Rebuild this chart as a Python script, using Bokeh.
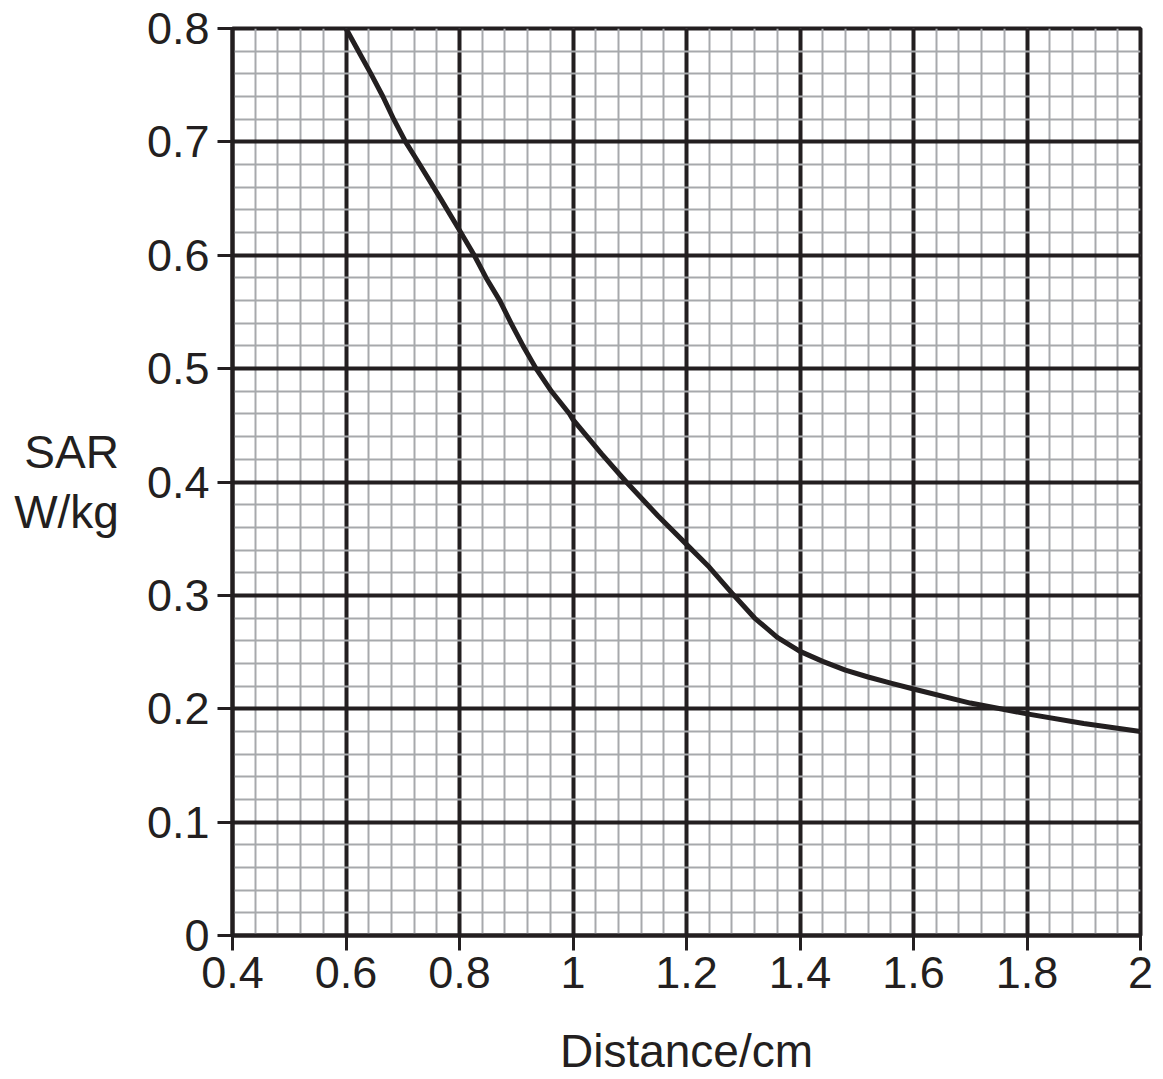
from bokeh.plotting import figure
from bokeh.models import FixedTicker, Range1d
from bokeh.embed import file_html
from bokeh.resources import INLINE

# Data
distance_cm = [0.600, 0.622, 0.644, 0.665, 0.684, 0.705, 0.725, 0.747, 0.769, 0.800,
               0.826, 0.847, 0.871, 0.891, 0.912, 0.935, 0.962, 0.994, 1.000, 1.050,
               1.094, 1.150, 1.200, 1.240, 1.280, 1.320, 1.360, 1.400, 1.440, 1.480,
               1.520, 1.560, 1.600, 1.700, 1.753, 1.800, 1.900, 2.000]
sar_wkg = [0.800, 0.780, 0.760, 0.740, 0.720, 0.700, 0.684, 0.666, 0.648, 0.622,
           0.600, 0.580, 0.560, 0.540, 0.520, 0.500, 0.480, 0.460, 0.455, 0.425,
           0.400, 0.370, 0.345, 0.325, 0.302, 0.280, 0.263, 0.2506, 0.2418, 0.234,
           0.228, 0.2226, 0.2174, 0.205, 0.200, 0.1955, 0.187, 0.180]

x_ticks = [0.4, 0.6, 0.8, 1.0, 1.2, 1.4, 1.6, 1.8, 2.0]
x_tick_labels = {0.4: "0.4", 0.6: "0.6", 0.8: "0.8", 1.0: "1", 1.2: "1.2", 1.4: "1.4",
                 1.6: "1.6", 1.8: "1.8", 2.0: "2"}
y_ticks = [0.0, 0.1, 0.2, 0.3, 0.4, 0.5, 0.6, 0.7, 0.8]
y_tick_labels = {0.0: "0", 0.1: "0.1", 0.2: "0.2", 0.3: "0.3", 0.4: "0.4", 0.5: "0.5",
                 0.6: "0.6", 0.7: "0.7", 0.8: "0.8"}
x_minor = [round(0.4 + 0.04 * i, 4) for i in range(41)]
y_minor = [round(0.02 * i, 4) for i in range(41)]

x_label = "Distance/cm"
y_label = "SAR\nW/kg"

INK = "#231f20"
MINOR = "#a7a9ac"
FONT = "Liberation Sans"

p = figure(width=1158, height=1079, output_backend="svg", toolbar_location=None,
           x_range=Range1d(0.4, 2.0), y_range=Range1d(0.0, 0.8),
           min_border_left=232, min_border_right=18, min_border_top=28, min_border_bottom=144)
p.background_fill_color = "white"
p.border_fill_color = "white"
p.outline_line_color = INK
p.outline_line_width = 4

p.xaxis.ticker = FixedTicker(ticks=x_ticks, minor_ticks=x_minor)
p.yaxis.ticker = FixedTicker(ticks=y_ticks, minor_ticks=y_minor)
p.xaxis.major_label_overrides = x_tick_labels
p.yaxis.major_label_overrides = y_tick_labels

for ax in (p.xaxis, p.yaxis):
    ax.axis_line_color = INK
    ax.axis_line_width = 4
    ax.major_tick_line_color = INK
    ax.major_tick_line_width = 3
    ax.major_tick_out = 15
    ax.major_tick_in = 0
    ax.minor_tick_line_color = None
    ax.major_label_text_font = FONT
    ax.major_label_text_font_size = "45px"
    ax.major_label_text_color = INK
    ax.axis_label_text_font = FONT
    ax.axis_label_text_font_size = "46px"
    ax.axis_label_text_font_style = "normal"
    ax.axis_label_text_color = INK
    ax.major_label_text_line_height = 0.8
p.xaxis.axis_label_text_line_height = 0.8
p.yaxis.axis_label_text_line_height = 1.15
p.xaxis.major_label_standoff = 6
p.yaxis.major_label_standoff = 8

p.xaxis.axis_label = x_label
p.xaxis.axis_label_standoff = 34
p.yaxis.axis_label = y_label
p.yaxis.axis_label_orientation = "horizontal"
p.yaxis.axis_label_standoff = 25
p.yaxis.axis_label_text_align = "left"

for g in (p.xgrid, p.ygrid):
    g.grid_line_color = INK
    g.grid_line_width = 4
    g.grid_line_alpha = 1.0
    g.minor_grid_line_color = MINOR
    g.minor_grid_line_width = 2
    g.level = "underlay"

p.line(distance_cm, sar_wkg, line_color=INK, line_width=5, line_join="round")

open("out.html", "w").write(file_html(p, INLINE))
